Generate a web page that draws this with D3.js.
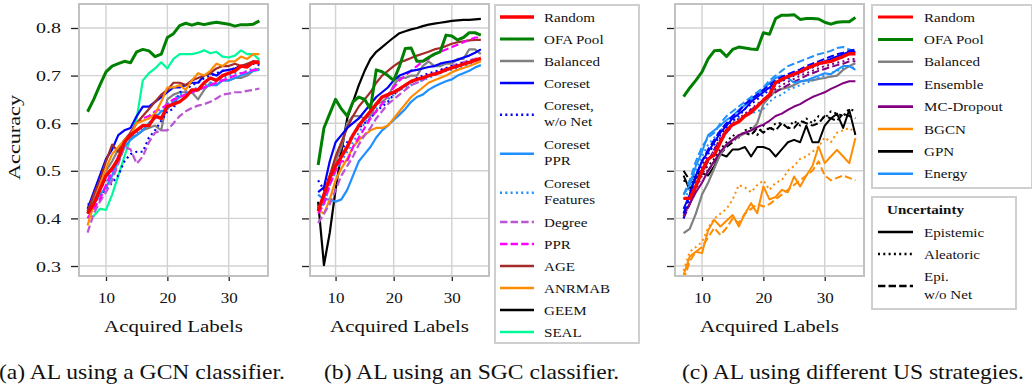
<!DOCTYPE html>
<html><head><meta charset="utf-8">
<script src="https://cdn.jsdelivr.net/npm/d3@7"></script>
<style>
body{margin:0;background:#fff;}
svg{display:block;}
</style>
</head><body>
<svg id="chart" width="1032" height="385"></svg>
<script>
// ---------------- DATA ----------------
const acquiredLabels = [7,8,9,10,11,12,13,14,15,16,17,18,19,20,21,22,23,24,25,26,27,28,29,30,31,32,33,34,35];
const yTicks = [0.3,0.4,0.5,0.6,0.7,0.8];
const xTicks = [10,20,30];
const yDomain = [0.279, 0.8504];
const xDomain = [5.6, 36.4];

// (a) GCN classifier
const gcnRandom = [0.41,0.43,0.46,0.49,0.505,0.525,0.56,0.575,0.585,0.595,0.595,0.615,0.61,0.635,0.64,0.645,0.655,0.67,0.67,0.685,0.695,0.69,0.70,0.705,0.71,0.72,0.718,0.728,0.727];
const gcnOFA = [0.624,0.65,0.68,0.708,0.72,0.725,0.73,0.727,0.75,0.755,0.752,0.74,0.745,0.78,0.788,0.805,0.81,0.806,0.81,0.807,0.81,0.812,0.81,0.808,0.804,0.807,0.807,0.808,0.815];
const gcnBalanced = [0.41,0.44,0.47,0.50,0.52,0.545,0.565,0.57,0.575,0.585,0.59,0.595,0.585,0.65,0.66,0.665,0.665,0.665,0.65,0.67,0.685,0.68,0.69,0.69,0.695,0.695,0.70,0.71,0.715];
const gcnCoreset = [0.42,0.455,0.49,0.525,0.545,0.575,0.585,0.59,0.615,0.635,0.635,0.645,0.655,0.665,0.675,0.675,0.68,0.685,0.685,0.70,0.705,0.70,0.71,0.712,0.715,0.72,0.722,0.73,0.725];
const gcnCoresetNoNet = [0.43,0.43,0.45,0.46,0.475,0.49,0.52,0.535,0.54,0.54,0.57,0.585,0.605,0.625,0.63,0.665,0.67,0.68,0.685,0.695,0.70,0.705,0.71,0.712,0.715,0.72,0.72,0.725,0.722];
const gcnCoresetPPR = [0.415,0.43,0.45,0.465,0.49,0.52,0.55,0.565,0.575,0.585,0.60,0.61,0.625,0.63,0.645,0.655,0.66,0.665,0.67,0.675,0.68,0.68,0.69,0.69,0.695,0.70,0.705,0.71,0.712];
const gcnCoresetFeat = [0.41,0.43,0.46,0.48,0.50,0.53,0.555,0.57,0.58,0.59,0.60,0.615,0.625,0.64,0.65,0.66,0.665,0.67,0.675,0.68,0.685,0.69,0.695,0.70,0.705,0.705,0.71,0.715,0.713];
const gcnDegree = [0.37,0.41,0.435,0.455,0.48,0.515,0.55,0.545,0.515,0.53,0.56,0.58,0.585,0.585,0.60,0.615,0.625,0.632,0.637,0.64,0.645,0.652,0.66,0.662,0.665,0.665,0.668,0.67,0.673];
const gcnPPR = [0.40,0.42,0.44,0.47,0.50,0.53,0.56,0.58,0.60,0.61,0.615,0.625,0.63,0.64,0.65,0.655,0.66,0.665,0.67,0.675,0.68,0.685,0.69,0.695,0.70,0.705,0.708,0.712,0.712];
const gcnAGE = [0.415,0.45,0.48,0.52,0.555,0.54,0.565,0.58,0.60,0.615,0.63,0.645,0.66,0.67,0.685,0.685,0.68,0.69,0.695,0.70,0.705,0.715,0.72,0.72,0.725,0.72,0.725,0.73,0.73];
const gcnANRMAB = [0.385,0.43,0.47,0.505,0.535,0.55,0.565,0.575,0.60,0.605,0.61,0.62,0.645,0.675,0.675,0.68,0.67,0.69,0.705,0.70,0.71,0.725,0.72,0.73,0.73,0.74,0.735,0.745,0.745];
const gcnSEAL = [0.404,0.405,0.42,0.418,0.45,0.49,0.53,0.57,0.61,0.69,0.705,0.715,0.728,0.715,0.735,0.745,0.745,0.745,0.748,0.753,0.747,0.75,0.74,0.738,0.742,0.753,0.745,0.745,0.733];

// (b) SGC classifier
const sgcRandom = [0.415,0.45,0.485,0.51,0.53,0.55,0.575,0.595,0.61,0.625,0.64,0.655,0.66,0.665,0.672,0.68,0.688,0.692,0.695,0.70,0.703,0.707,0.712,0.716,0.72,0.724,0.728,0.732,0.736];
const sgcOFA = [0.512,0.59,0.62,0.65,0.63,0.615,0.645,0.655,0.65,0.63,0.712,0.708,0.70,0.69,0.72,0.757,0.758,0.73,0.73,0.738,0.745,0.75,0.785,0.783,0.775,0.78,0.79,0.79,0.785];
const sgcBalanced = [0.42,0.44,0.49,0.52,0.55,0.60,0.615,0.615,0.61,0.615,0.64,0.645,0.655,0.68,0.695,0.695,0.70,0.70,0.72,0.73,0.72,0.72,0.725,0.725,0.735,0.735,0.755,0.755,0.745];
const sgcCoreset = [0.455,0.465,0.52,0.56,0.575,0.59,0.60,0.61,0.625,0.64,0.655,0.665,0.675,0.69,0.70,0.705,0.71,0.712,0.715,0.718,0.72,0.725,0.728,0.73,0.733,0.738,0.742,0.748,0.755];
const sgcCoresetNoNet = [0.48,0.46,0.49,0.51,0.545,0.56,0.575,0.59,0.60,0.61,0.625,0.635,0.645,0.66,0.67,0.68,0.685,0.695,0.70,0.705,0.708,0.712,0.716,0.72,0.723,0.727,0.73,0.733,0.735];
const sgcCoresetPPR = [0.45,0.44,0.44,0.435,0.44,0.46,0.49,0.52,0.535,0.55,0.57,0.585,0.595,0.607,0.618,0.63,0.645,0.655,0.66,0.67,0.677,0.683,0.688,0.692,0.70,0.705,0.71,0.717,0.722];
const sgcCoresetFeat = [0.42,0.43,0.47,0.50,0.52,0.54,0.56,0.58,0.60,0.615,0.63,0.64,0.65,0.66,0.67,0.675,0.68,0.685,0.69,0.695,0.70,0.705,0.71,0.713,0.716,0.72,0.723,0.726,0.73];
const sgcDegree = [0.39,0.41,0.43,0.46,0.49,0.51,0.53,0.555,0.575,0.59,0.61,0.625,0.64,0.65,0.66,0.67,0.68,0.685,0.69,0.70,0.705,0.71,0.715,0.72,0.725,0.728,0.732,0.735,0.738];
const sgcPPR = [0.41,0.43,0.47,0.50,0.52,0.52,0.55,0.57,0.59,0.61,0.625,0.64,0.66,0.675,0.69,0.70,0.71,0.72,0.73,0.735,0.745,0.75,0.755,0.76,0.765,0.77,0.775,0.78,0.78];
const sgcAGE = [0.42,0.45,0.49,0.53,0.56,0.59,0.615,0.635,0.65,0.665,0.685,0.70,0.71,0.72,0.728,0.732,0.737,0.742,0.746,0.75,0.755,0.758,0.762,0.767,0.77,0.772,0.774,0.775,0.775];
const sgcANRMAB = [0.418,0.41,0.44,0.48,0.505,0.525,0.55,0.565,0.575,0.585,0.59,0.59,0.595,0.61,0.625,0.64,0.655,0.665,0.675,0.685,0.69,0.695,0.70,0.707,0.712,0.716,0.72,0.725,0.73];
const sgcGEEM = [0.435,0.302,0.37,0.46,0.54,0.61,0.645,0.68,0.71,0.735,0.75,0.76,0.77,0.78,0.789,0.793,0.797,0.80,0.804,0.807,0.809,0.811,0.813,0.815,0.816,0.817,0.817,0.818,0.819];

// (c) uncertainty strategies
const usRandom = [0.442,0.442,0.468,0.50,0.525,0.533,0.56,0.585,0.597,0.603,0.615,0.623,0.635,0.648,0.66,0.685,0.692,0.698,0.703,0.708,0.715,0.72,0.725,0.728,0.73,0.735,0.74,0.746,0.746];
const usOFA = [0.656,0.674,0.69,0.708,0.735,0.752,0.753,0.74,0.755,0.76,0.758,0.756,0.755,0.79,0.787,0.82,0.827,0.827,0.828,0.818,0.82,0.82,0.819,0.812,0.808,0.812,0.813,0.813,0.822];
const usBalanced = [0.369,0.378,0.41,0.45,0.475,0.505,0.535,0.555,0.565,0.572,0.579,0.585,0.60,0.64,0.655,0.668,0.672,0.675,0.68,0.687,0.69,0.69,0.693,0.695,0.698,0.70,0.712,0.72,0.726];
const ensembleEpi = [0.42,0.45,0.49,0.52,0.54,0.56,0.58,0.595,0.61,0.62,0.63,0.645,0.655,0.665,0.675,0.685,0.69,0.70,0.705,0.71,0.715,0.72,0.725,0.73,0.735,0.74,0.745,0.75,0.75];
const ensembleAlea = [0.40,0.44,0.48,0.51,0.535,0.555,0.575,0.59,0.605,0.615,0.63,0.64,0.65,0.66,0.67,0.68,0.688,0.695,0.70,0.705,0.712,0.717,0.722,0.728,0.732,0.737,0.742,0.748,0.748];
const ensembleNoNet = [0.41,0.45,0.49,0.52,0.545,0.565,0.585,0.60,0.615,0.625,0.64,0.65,0.66,0.67,0.68,0.69,0.697,0.703,0.708,0.713,0.72,0.725,0.73,0.735,0.74,0.745,0.748,0.752,0.755];
const mcEpi = [0.41,0.43,0.455,0.475,0.50,0.52,0.54,0.555,0.565,0.575,0.58,0.585,0.592,0.597,0.605,0.615,0.62,0.628,0.635,0.64,0.648,0.655,0.66,0.665,0.672,0.678,0.684,0.688,0.688];
const mcAlea = [0.405,0.43,0.46,0.49,0.52,0.545,0.57,0.585,0.60,0.61,0.62,0.63,0.64,0.65,0.66,0.672,0.68,0.687,0.693,0.70,0.705,0.71,0.715,0.72,0.723,0.727,0.73,0.735,0.735];
const mcNoNet = [0.40,0.43,0.465,0.495,0.52,0.545,0.565,0.58,0.595,0.605,0.617,0.628,0.638,0.648,0.657,0.665,0.673,0.68,0.687,0.693,0.70,0.705,0.71,0.714,0.718,0.722,0.725,0.73,0.73];
const bgcnEpi = [0.281,0.32,0.33,0.327,0.375,0.397,0.383,0.395,0.407,0.383,0.41,0.432,0.411,0.467,0.44,0.445,0.46,0.455,0.488,0.467,0.49,0.51,0.551,0.516,0.53,0.544,0.53,0.516,0.569];
const bgcnAlea = [0.29,0.33,0.34,0.35,0.38,0.40,0.41,0.42,0.44,0.47,0.465,0.455,0.47,0.48,0.46,0.475,0.48,0.50,0.51,0.525,0.53,0.54,0.55,0.57,0.56,0.58,0.585,0.59,0.58];
const bgcnNoNet = [0.27,0.31,0.33,0.34,0.36,0.38,0.365,0.38,0.40,0.39,0.41,0.42,0.43,0.425,0.43,0.44,0.45,0.46,0.47,0.48,0.49,0.50,0.52,0.49,0.48,0.485,0.49,0.485,0.48];
const gpnEpi = [0.49,0.46,0.485,0.495,0.49,0.51,0.535,0.53,0.545,0.545,0.55,0.53,0.55,0.55,0.545,0.53,0.545,0.56,0.565,0.56,0.595,0.56,0.56,0.595,0.61,0.62,0.59,0.628,0.575];
const gpnAlea = [0.48,0.47,0.49,0.50,0.51,0.525,0.545,0.56,0.575,0.57,0.585,0.59,0.575,0.595,0.585,0.60,0.60,0.59,0.605,0.595,0.61,0.60,0.615,0.61,0.625,0.62,0.615,0.63,0.625];
const gpnNoNet = [0.50,0.48,0.495,0.50,0.50,0.52,0.535,0.55,0.56,0.575,0.58,0.575,0.59,0.58,0.59,0.585,0.60,0.59,0.59,0.605,0.60,0.595,0.60,0.615,0.61,0.605,0.62,0.615,0.61];
const energyEpi = [0.45,0.47,0.51,0.54,0.575,0.585,0.595,0.607,0.615,0.628,0.638,0.65,0.66,0.67,0.685,0.695,0.70,0.695,0.685,0.688,0.69,0.695,0.70,0.705,0.703,0.712,0.72,0.72,0.712];
const energyAlea = [0.44,0.46,0.50,0.53,0.555,0.57,0.585,0.595,0.605,0.61,0.615,0.62,0.625,0.63,0.645,0.655,0.66,0.67,0.675,0.68,0.685,0.69,0.695,0.70,0.705,0.71,0.715,0.72,0.715];
const energyNoNet = [0.45,0.48,0.52,0.55,0.57,0.58,0.60,0.615,0.625,0.635,0.645,0.655,0.665,0.675,0.69,0.70,0.71,0.72,0.725,0.73,0.735,0.74,0.745,0.748,0.752,0.758,0.76,0.755,0.75];

// ---------------- STYLES ----------------
const DOT = "2,3.3", DASH = "7.4,3.2";
const styles = {
  "Random": {color:"#ff0000", width:3.4},
  "OFA Pool": {color:"#008000", width:3},
  "Balanced": {color:"#808080", width:2.2},
  "Coreset": {color:"#0000ff", width:2.2},
  "Coreset, w/o Net": {color:"#0000ff", width:2.2, dash:DOT},
  "Coreset PPR": {color:"#1e90ff", width:2.2},
  "Coreset Features": {color:"#1e90ff", width:2.2, dash:DOT},
  "Degree": {color:"#ba55d3", width:2.2, dash:DASH},
  "PPR": {color:"#ff00ff", width:2.2, dash:DASH},
  "AGE": {color:"#a52a2a", width:2.2},
  "ANRMAB": {color:"#ff8c00", width:2.2},
  "GEEM": {color:"#000000", width:2.2},
  "SEAL": {color:"#00fa9a", width:2.2},
  "Ensemble": {color:"#0000ff", width:2},
  "MC-Dropout": {color:"#800080", width:2},
  "BGCN": {color:"#ff8c00", width:2},
  "GPN": {color:"#000000", width:2},
  "Energy": {color:"#1e90ff", width:2}
};
const uncDash = {epi:null, alea:DOT, nonet:DASH};

const panels = [
  {left:79, right:268, yLabels:true, series:[
    ["OFA Pool", gcnOFA], ["SEAL", gcnSEAL], ["Balanced", gcnBalanced], ["Coreset, w/o Net", gcnCoresetNoNet],
    ["Coreset Features", gcnCoresetFeat], ["Coreset PPR", gcnCoresetPPR], ["Degree", gcnDegree], ["PPR", gcnPPR],
    ["Coreset", gcnCoreset], ["AGE", gcnAGE], ["ANRMAB", gcnANRMAB], ["Random", gcnRandom]]},
  {left:310, right:489, yLabels:false, series:[
    ["GEEM", sgcGEEM], ["Coreset PPR", sgcCoresetPPR], ["Coreset Features", sgcCoresetFeat], ["ANRMAB", sgcANRMAB],
    ["Degree", sgcDegree], ["Coreset, w/o Net", sgcCoresetNoNet], ["Balanced", sgcBalanced], ["AGE", sgcAGE],
    ["PPR", sgcPPR], ["Coreset", sgcCoreset], ["OFA Pool", sgcOFA], ["Random", sgcRandom]]},
  {left:675, right:864, yLabels:false, series:[
    ["BGCN", bgcnEpi, "epi"], ["BGCN", bgcnAlea, "alea"], ["BGCN", bgcnNoNet, "nonet"],
    ["GPN", gpnEpi, "epi"], ["GPN", gpnAlea, "alea"], ["GPN", gpnNoNet, "nonet"],
    ["Balanced", usBalanced],
    ["MC-Dropout", mcEpi, "epi"], ["MC-Dropout", mcAlea, "alea"], ["MC-Dropout", mcNoNet, "nonet"],
    ["Energy", energyEpi, "epi"], ["Energy", energyAlea, "alea"], ["Energy", energyNoNet, "nonet"],
    ["Ensemble", ensembleEpi, "epi"], ["Ensemble", ensembleAlea, "alea"], ["Ensemble", ensembleNoNet, "nonet"],
    ["OFA Pool", usOFA], ["Random", usRandom]]}
];

const legend1 = [["Random"],["OFA Pool"],["Balanced"],["Coreset"],["Coreset,","w/o Net"],["Coreset","PPR"],["Coreset","Features"],["Degree"],["PPR"],["AGE"],["ANRMAB"],["GEEM"],["SEAL"]];
const legend2 = ["Random","OFA Pool","Balanced","Ensemble","MC-Dropout","BGCN","GPN","Energy"];
const legend3 = [["Epistemic"],["Aleatoric"],["Epi.","w/o Net"]];
const legend3Keys = ["epi","alea","nonet"];
const captions = ["(a) AL using a GCN classifier.","(b) AL using an SGC classifier.","(c) AL using different US strategies."];

// ---------------- DRAW ----------------
const FONT = "'Liberation Serif'";
const svg = d3.select("#chart");
const TOP = 4, BOTTOM = 276;
const y = d3.scaleLinear().domain(yDomain).range([BOTTOM, TOP]);

// horizontal stretch via transform (keeps the font); target = width in px or factor
function hscale(node, opts){
  const L = node.getComputedTextLength();
  const s = opts.width ? opts.width / L : opts.factor;
  const x = +node.getAttribute("x") || 0, yy = +node.getAttribute("y") || 0;
  const pre = opts.pre || "";
  node.setAttribute("x", 0); node.setAttribute("y", 0);
  node.setAttribute("transform", `${pre} translate(${x},${yy}) scale(${s.toFixed(4)},1)`);
}
function txt(parent, size){
  return parent.append("text").style("font-family", FONT).style("font-size", size+"px").attr("fill","#111");
}

panels.forEach((p, idx) => {
  const x = d3.scaleLinear().domain(xDomain).range([p.left, p.right]);
  const g = svg.append("g");
  g.selectAll(".gx").data(xTicks).join("line")
    .attr("x1", d=>x(d)).attr("x2", d=>x(d)).attr("y1", TOP).attr("y2", BOTTOM)
    .attr("stroke","#d2d2d2").attr("stroke-width",1.4);
  g.selectAll(".gy").data(yTicks).join("line")
    .attr("x1", p.left).attr("x2", p.right).attr("y1", d=>y(d)).attr("y2", d=>y(d))
    .attr("stroke","#d2d2d2").attr("stroke-width",1.4);
  svg.append("clipPath").attr("id","clip"+idx).append("rect")
    .attr("x",p.left).attr("y",TOP).attr("width",p.right-p.left).attr("height",BOTTOM-TOP);
  const line = d3.line().x((d,i)=>x(acquiredLabels[i])).y(d=>y(d));
  const lg = g.append("g").attr("clip-path",`url(#clip${idx})`);
  p.series.forEach(s => {
    const st = styles[s[0]];
    const dash = s[2] ? uncDash[s[2]] : st.dash;
    lg.append("path").datum(s[1]).attr("d", line)
      .attr("fill","none").attr("stroke",st.color).attr("stroke-width",st.width)
      .attr("stroke-dasharray", dash || null).attr("stroke-linejoin","round");
  });
  g.append("rect").attr("x",p.left).attr("y",TOP).attr("width",p.right-p.left).attr("height",BOTTOM-TOP)
    .attr("fill","none").attr("stroke","#c2c2c2").attr("stroke-width",2);
  const ya = d3.axisLeft(y).tickValues(yTicks).tickSize(7).tickPadding(10)
    .tickFormat(p.yLabels ? d3.format(".1f") : "");
  const yg = g.append("g").attr("transform",`translate(${p.left-1},0)`).call(ya);
  yg.select(".domain").remove();
  yg.attr("font-family", null).attr("font-size", null);
  yg.selectAll("line").attr("stroke","#222").attr("stroke-width",1.3);
  yg.selectAll("text").attr("fill","#111").attr("dy",null).attr("y",5)
    .style("font-family",FONT).style("font-size","15px");
  if (p.yLabels) yg.selectAll("text").each(function(){ hscale(this, {width:25}); });
  const xa = d3.axisBottom(x).tickValues(xTicks).tickSize(4).tickPadding(12).tickFormat(d3.format("d"));
  const xg = g.append("g").attr("transform",`translate(0,${BOTTOM+1})`).call(xa);
  xg.select(".domain").remove();
  xg.attr("font-family", null).attr("font-size", null);
  xg.selectAll("line").attr("stroke","#222").attr("stroke-width",1.3);
  xg.selectAll("text").attr("fill","#111").attr("dy",null).attr("y",26)
    .style("font-family",FONT).style("font-size","15px")
    .each(function(){ hscale(this, {width:17}); });
  const xl = txt(g, 17).attr("x",(p.left+p.right)/2).attr("y",332)
    .attr("text-anchor","middle").text("Acquired Labels");
  hscale(xl.node(), {width:139});
});

const yl = txt(svg, 17.5).attr("text-anchor","middle").text("Accuracy");
hscale(yl.node(), {width:85, pre:"translate(20,137.5) rotate(-90)"});

// legend 1
const L1 = svg.append("g");
L1.append("rect").attr("x",495).attr("y",5).attr("width",144).attr("height",338)
  .attr("fill","#fff").attr("stroke","#cfcfcf").attr("stroke-width",2);
let cy = 17;
legend1.forEach(lines => {
  const key = lines.join(" ");
  const st = styles[key];
  const mid = cy + (lines.length-1)*16.5/2 + (lines.length>1?1.5:0);
  L1.append("line").attr("x1",500).attr("x2",534).attr("y1",mid).attr("y2",mid)
    .attr("stroke",st.color).attr("stroke-width",Math.max(st.width,2.6)).attr("stroke-dasharray",st.dash||null);
  lines.forEach((t,i) => {
    txt(L1, 13).attr("x",544).attr("y",cy+i*16.5+4.5).text(t);
  });
  cy += (lines.length-1)*16.5 + (lines.length>1?22.5:22);
});
L1.selectAll("text").each(function(){ hscale(this, {factor:1.16}); });

// legend 2
const L2 = svg.append("g");
L2.append("rect").attr("x",872).attr("y",5).attr("width",160).attr("height",183)
  .attr("fill","#fff").attr("stroke","#cfcfcf").attr("stroke-width",2);
legend2.forEach((k,i) => {
  const st = styles[k];
  const yy = 17 + i*22.4;
  L2.append("line").attr("x1",878).attr("x2",913).attr("y1",yy).attr("y2",yy)
    .attr("stroke",st.color).attr("stroke-width",k==="Random"||k==="OFA Pool"?3:2.6);
  txt(L2, 13).attr("x",924).attr("y",yy+4.5).text(k);
});
L2.selectAll("text").each(function(){ hscale(this, {factor:1.16}); });

// legend 3
const L3 = svg.append("g");
L3.append("rect").attr("x",872).attr("y",197).attr("width",144).attr("height",112)
  .attr("fill","#fff").attr("stroke","#cfcfcf").attr("stroke-width",2);
txt(L3, 13).attr("x",887).attr("y",213.5).style("font-weight","bold").text("Uncertainty");
let cy3 = 232;
legend3.forEach((lines,i) => {
  const mid = cy3 + (lines.length-1)*18/2 + (lines.length>1?1:0);
  L3.append("line").attr("x1",878).attr("x2",913).attr("y1",mid).attr("y2",mid)
    .attr("stroke","#000").attr("stroke-width",2.4).attr("stroke-dasharray",uncDash[legend3Keys[i]]||null);
  lines.forEach((t,j) => {
    txt(L3, 13).attr("x",924).attr("y",cy3+j*18+4.5).text(t);
  });
  cy3 += (lines.length-1)*18 + 22;
});
L3.selectAll("text").each(function(){ hscale(this, {factor:1.16}); });

// captions
const capX = [-1, 324, 682];
captions.forEach((c,i) => {
  const t = txt(svg, 20).attr("x",capX[i]).attr("y",379).text(c);
  hscale(t.node(), {factor:1.18});
});
</script>
</body></html>
